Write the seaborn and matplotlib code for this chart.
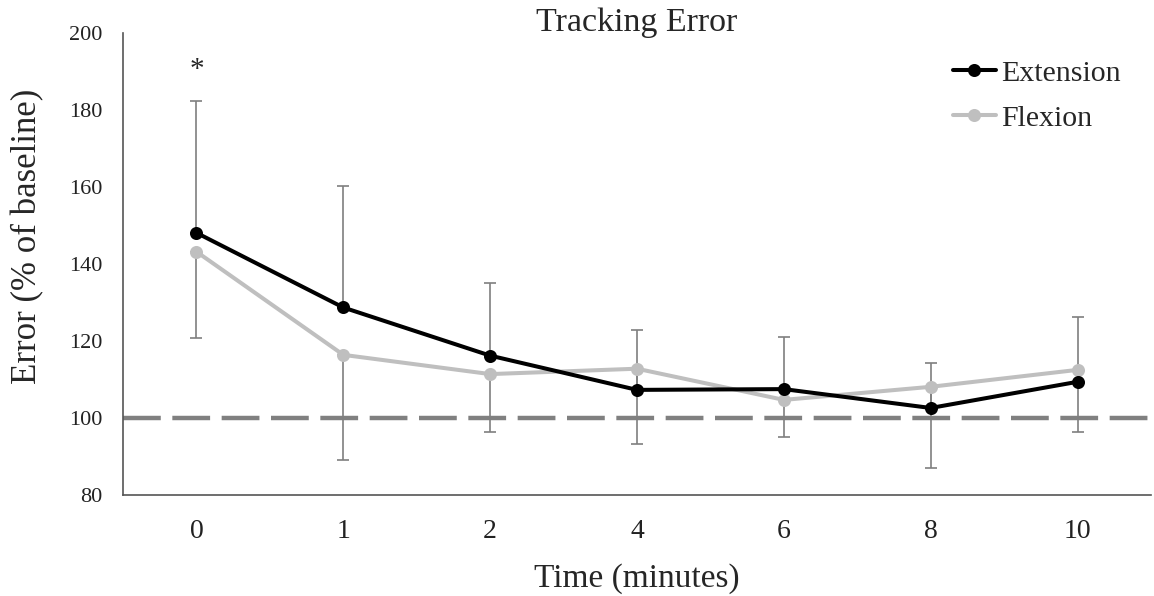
import matplotlib
matplotlib.use("Agg")
import matplotlib.pyplot as plt
import seaborn as sns
import pandas as pd
import numpy as np

times = ["0", "1", "2", "4", "6", "8", "10"]
extension = [148.1, 128.7, 116.2, 107.3, 107.5, 102.6, 109.4]
flexion = [143.2, 116.4, 111.4, 112.8, 104.7, 108.1, 112.5]
upper_end = [182.4, 160.3, 135.1, 122.9, 121.0, 114.3, 126.2]
lower_end = [120.9, 89.1, 96.3, 93.2, 95.1, 87.0, 96.4]
baseline = 100
star_y = 190.5

sns.set_theme(style="white")
plt.rcParams["font.family"] = ["Liberation Serif", "DejaVu Serif"]

df = pd.DataFrame({
    "Time": times * 2,
    "Error": extension + flexion,
    "Condition": ["Extension"] * len(times) + ["Flexion"] * len(times),
})

fig = plt.figure(figsize=(11.54, 5.96), dpi=100)
ax = fig.add_axes([0.1066, 0.1695, 0.8908, 0.7751])

ax.axhline(baseline, color="#808080", lw=3.2, dashes=(8.5, 2.6), zorder=1, clip_on=False)

pos = np.arange(len(times))
ext = np.array(extension)
flx = np.array(flexion)
ax.errorbar(pos, ext, yerr=[np.zeros_like(ext), np.array(upper_end) - ext],
            fmt="none", ecolor="#7f7f7f", elinewidth=1.2, capsize=4, capthick=1.2, zorder=2)
ax.errorbar(pos, flx, yerr=[flx - np.array(lower_end), np.zeros_like(flx)],
            fmt="none", ecolor="#7f7f7f", elinewidth=1.2, capsize=4, capthick=1.2, zorder=2)

sns.pointplot(data=df, x="Time", y="Error", hue="Condition", order=times,
              hue_order=["Flexion", "Extension"],
              palette={"Extension": "#000000", "Flexion": "#bfbfbf"},
              markers="o", linestyles="-", errorbar=None, ax=ax,
              linewidth=2.9, markersize=7.2)

ax.text(0, star_y, "*", ha="center", va="center", fontsize=21)

ax.set_xlim(-0.5, len(times) - 0.5)
ax.set_ylim(80, 200)
ax.set_yticks(np.arange(80, 201, 20))
ax.tick_params(axis="both", length=0, colors="#222222")
ax.tick_params(axis="y", labelsize=16, pad=15)
ax.tick_params(axis="x", labelsize=20, pad=17)
ax.set_xlabel("Time (minutes)", fontsize=24)
ax.set_ylabel("Error (% of baseline)", fontsize=25)
ax.xaxis.set_label_coords(0.5, -0.18)
ax.yaxis.set_label_coords(-0.093, 0.56)
ax.xaxis.label.set_va("center")
ax.yaxis.label.set_va("center")
fig.text(637 / 1154, 1 - 23 / 596, "Tracking Error", ha="center", va="center", fontsize=24.5)

for s in ["top", "right"]:
    ax.spines[s].set_visible(False)
for s in ["left", "bottom"]:
    ax.spines[s].set_color("#555555")
    ax.spines[s].set_linewidth(1.2)

handles, labels = ax.get_legend_handles_labels()
order = [labels.index("Extension"), labels.index("Flexion")]
ax.legend([handles[i] for i in order], [labels[i] for i in order],
          loc="upper left", bbox_to_anchor=(0.807, 0.942), frameon=False,
          borderaxespad=0, borderpad=0,
          fontsize=21.5, handlelength=1.45, handletextpad=0.17, labelspacing=0.6)

fig.savefig("out.png", dpi=100)
